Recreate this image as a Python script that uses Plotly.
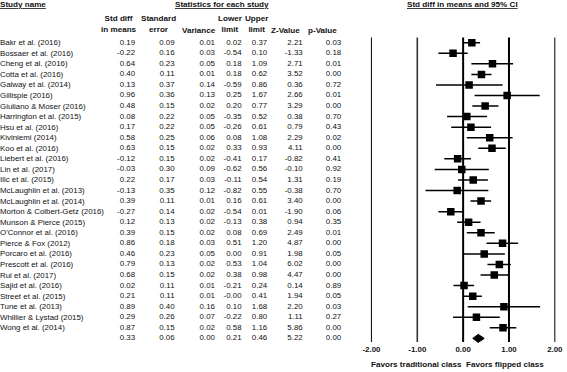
import plotly.graph_objects as go

# ---------------- data ----------------
studies = [
    "Bakr et al. (2016)", "Bossaer et al. (2016)", "Cheng et al. (2016)", "Cotta et al. (2016)",
    "Galway et al. (2014)", "Gillispie (2016)", "Giuliano & Moser (2016)", "Harrington et al. (2015)",
    "Hsu et al. (2016)", "Kiviniemi (2014)", "Koo et al. (2016)", "Liebert et al. (2016)",
    "Lin et al. (2017)", "Ilic et al. (2015)", "McLaughlin et al. (2013)", "McLaughlin et al. (2014)",
    "Morton & Colbert-Getz (2016)", "Munson & Pierce (2015)", "O'Connor et al. (2016)", "Pierce & Fox (2012)",
    "Porcaro et al. (2016)", "Prescott et al. (2016)", "Rui et al. (2017)", "Sajid et al. (2016)",
    "Street et al. (2015)", "Tune et al. (2013)", "Whillier & Lystad (2015)", "Wong et al. (2014)",
]
std_diff = [0.19, -0.22, 0.64, 0.40, 0.13, 0.96, 0.48, 0.08, 0.17, 0.58, 0.63, -0.12, -0.03, 0.22,
            -0.13, 0.39, -0.27, 0.12, 0.39, 0.86, 0.46, 0.79, 0.68, 0.02, 0.21, 0.89, 0.29, 0.87]
std_err = [0.09, 0.16, 0.23, 0.11, 0.37, 0.36, 0.15, 0.22, 0.22, 0.25, 0.15, 0.15, 0.30, 0.17,
           0.35, 0.11, 0.14, 0.13, 0.15, 0.18, 0.23, 0.13, 0.15, 0.11, 0.11, 0.40, 0.26, 0.15]
variance = [0.01, 0.03, 0.05, 0.01, 0.14, 0.13, 0.02, 0.05, 0.05, 0.06, 0.02, 0.02, 0.09, 0.03,
            0.12, 0.01, 0.02, 0.02, 0.02, 0.03, 0.05, 0.02, 0.02, 0.01, 0.01, 0.16, 0.07, 0.02]
lower = [0.02, -0.54, 0.18, 0.18, -0.59, 0.25, 0.20, -0.35, -0.26, 0.08, 0.33, -0.41, -0.62, -0.11,
         -0.82, 0.16, -0.54, -0.13, 0.08, 0.51, 0.00, 0.53, 0.38, -0.21, -0.004, 0.10, -0.22, 0.58]
upper = [0.37, 0.10, 1.09, 0.62, 0.86, 1.67, 0.77, 0.52, 0.61, 1.08, 0.93, 0.17, 0.56, 0.54,
         0.55, 0.61, 0.01, 0.38, 0.69, 1.20, 0.91, 1.04, 0.98, 0.24, 0.41, 1.68, 0.80, 1.16]
z_value = [2.21, -1.33, 2.71, 3.52, 0.36, 2.66, 3.29, 0.38, 0.79, 2.29, 4.11, -0.82, -0.10, 1.31,
           -0.38, 3.40, -1.90, 0.94, 2.49, 4.87, 1.98, 6.02, 4.47, 0.14, 1.94, 2.20, 1.11, 5.86]
p_value = [0.03, 0.18, 0.01, 0.00, 0.72, 0.01, 0.00, 0.70, 0.43, 0.02, 0.00, 0.41, 0.92, 0.19,
           0.70, 0.00, 0.06, 0.35, 0.01, 0.00, 0.05, 0.00, 0.00, 0.89, 0.05, 0.03, 0.27, 0.00]

# pooled (summary) row: std diff, std err, variance, lower, upper, z, p
summary_stats = [0.33, 0.06, 0.00, 0.21, 0.46, 5.22, 0.00]

tick_vals = [-2, -1, 0, 1, 2]
tick_text = ["-2.00", "-1.00", "0.00", "1.00", "2.00"]
favor_labels = ["Favors traditional class", "Favors flipped class"]

# ---------------- layout helpers ----------------
W, H = 567, 372
FONT = "Arial, Liberation Sans, sans-serif"
FS = 7.9
FSB = 8.1
TXT = "#111"
ROW0, ROWH = 42.7, 10.56  # pixel y of first row, row pitch
X_LEFT, X_RIGHT = 372.7, 558.7  # pixel x of -2 and +2
PAD = 0.1  # axis units of padding beyond +-2 so the outer lines are not clipped
NAME_X = -6  # left anchor (px) of the study-name column


def py_to_row(py):
    return (py - ROW0) / ROWH


def px_to_paper_y(py):
    return 1 - py / H


n = len(studies)
rows = list(range(n))
sum_row = n

fig = go.Figure()

# ---------------- numeric columns (x2 is a pixel scale) ----------------
col_right = [133, 173, 214, 241, 267, 303, 342]
cols = [std_diff, std_err, variance, lower, upper, z_value, p_value]
for xr, vals, sv in zip(col_right, cols, summary_stats):
    fig.add_trace(go.Scatter(
        x=[xr] * (n + 1), y=rows + [sum_row], xaxis="x2", yaxis="y", mode="text",
        cliponaxis=False, text=[f"{v:.2f}" for v in vals] + [f"{sv:.2f}"],
        textposition="middle left", textfont=dict(family=FONT, size=FS, color=TXT),
        hoverinfo="skip", showlegend=False))

# ---------------- forest plot ----------------
fig.add_trace(go.Scatter(
    x=std_diff, y=rows, mode="markers",
    marker=dict(symbol="square", size=7.5, color="black", line=dict(width=0)),
    error_x=dict(type="data", symmetric=False,
                 array=[u - e for u, e in zip(upper, std_diff)],
                 arrayminus=[e - l for e, l in zip(std_diff, lower)],
                 thickness=1.5, width=0, color="black"),
    hoverinfo="skip", showlegend=False))

d_est, d_lo, d_hi = summary_stats[0], summary_stats[3], summary_stats[4]
half = 0.38
fig.add_trace(go.Scatter(
    x=[d_lo, d_est, d_hi, d_est, d_lo],
    y=[sum_row, sum_row - half, sum_row, sum_row + half, sum_row],
    mode="lines", fill="toself", fillcolor="black", line=dict(color="black", width=1),
    hoverinfo="skip", showlegend=False))

line_styles = {-2: (1, "black"), -1: (1.6, "#333"), 0: (2, "black"), 1: (2, "black"), 2: (1, "black")}
for v in tick_vals:
    w, c = line_styles[v]
    fig.add_shape(type="line", xref="x", yref="y", x0=v, x1=v,
                  y0=py_to_row(37.5), y1=py_to_row(342), line=dict(color=c, width=w), layer="below")

# ---------------- study names and headers ----------------
ann = []
for r, name in zip(rows, studies):
    ann.append(dict(text=name, x=NAME_X / W, xref="paper", y=r, yref="y", xanchor="left",
                    yanchor="middle", showarrow=False,
                    font=dict(family=FONT, size=FS, color=TXT)))

bold = dict(family=FONT, size=FSB, color=TXT, weight="bold")
hdr = []
hdr.append(dict(text="Study name", x=NAME_X / W, y=px_to_paper_y(5), xanchor="left",
                font=dict(**bold, lineposition="under")))
hdr.append(dict(text="Statistics for each study", x=221 / W, y=px_to_paper_y(5), xanchor="center",
                font=dict(**bold, lineposition="under")))
hdr.append(dict(text="Std diff in means and 95% CI", x=465 / W, y=px_to_paper_y(5), xanchor="center",
                font=dict(**bold, lineposition="under")))
headers = [("Std diff<br>in means", 116.5, 23.5), ("Standard<br>error", 157, 23.5),
           ("Variance", 198, 30), ("Lower<br>limit", 229.5, 23.5), ("Upper<br>limit", 256.5, 23.5),
           ("Z-Value", 286, 30), ("p-Value", 323, 30)]
for t, cx, cy in headers:
    hdr.append(dict(text=t, x=cx / W, y=px_to_paper_y(cy), xanchor="center", font=bold))
hdr.append(dict(text=favor_labels[0], x=418.5 / W, y=px_to_paper_y(364), xanchor="center", font=bold))
hdr.append(dict(text=favor_labels[1], x=508 / W, y=px_to_paper_y(364), xanchor="center", font=bold))
for a in hdr:
    a.update(xref="paper", yref="paper", yanchor="middle", showarrow=False)
ann += hdr

ppu = (X_RIGHT - X_LEFT) / 4.0  # pixels per axis unit
fig.update_layout(
    width=W, height=H, margin=dict(l=0, r=0, t=0, b=0),
    paper_bgcolor="white", plot_bgcolor="rgba(0,0,0,0)",
    annotations=ann,
    xaxis=dict(domain=[(X_LEFT - PAD * ppu) / W, (X_RIGHT + PAD * ppu) / W], range=[-2 - PAD, 2 + PAD],
               anchor="free", position=px_to_paper_y(343), tickvals=tick_vals, ticktext=tick_text,
               ticks="", showgrid=False, zeroline=False, showline=False,
               tickfont=dict(family=FONT, size=FS, color=TXT, weight="bold"), fixedrange=True),
    xaxis2=dict(domain=[0, 1], range=[0, W], anchor="y", visible=False, fixedrange=True),
    yaxis=dict(domain=[0, 1], range=[py_to_row(H), py_to_row(0)], visible=False, fixedrange=True),
)

fig.write_html("out.html", config={"displayModeBar": False},
               post_script="document.body.style.margin='0';")
